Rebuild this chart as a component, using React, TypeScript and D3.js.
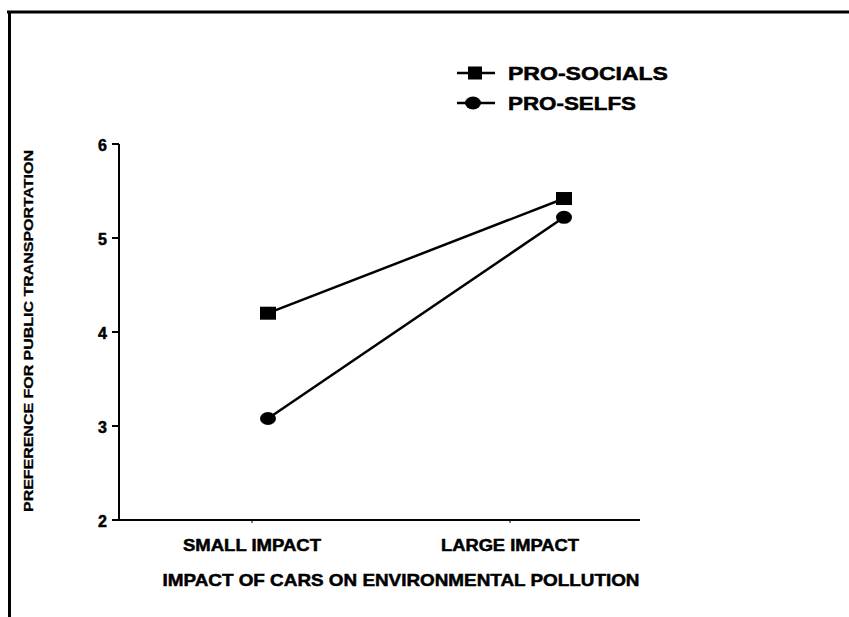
import React from "react";
import * as d3 from "d3";

const categories = ["SMALL IMPACT", "LARGE IMPACT"];
const proSocials = [4.2, 5.42];
const proSelfs = [3.08, 5.22];
const yTicks = [2, 3, 4, 5, 6];
const seriesNames = ["PRO-SOCIALS", "PRO-SELFS"];
const yTitle = "PREFERENCE FOR PUBLIC TRANSPORTATION";
const xTitle = "IMPACT OF CARS ON ENVIRONMENTAL POLLUTION";

const W = 849;
const H = 617;
const FONT = "'Liberation Sans', Arial, Helvetica, sans-serif";
const heavy = { stroke: "#000", strokeWidth: 0.5 };

export default function App() {
  const y = d3.scaleLinear().domain([2, 6]).range([520, 144]);
  const xData = d3.scalePoint<string>().domain(categories).range([268, 564]);
  const xLabel = d3.scalePoint<string>().domain(categories).range([252, 510]);
  const axisX = 119;
  const line = d3
    .line<number>()
    .x((_, i) => xData(categories[i]) as number)
    .y((v) => y(v));

  const series = [
    { name: seriesNames[0], values: proSocials, shape: "square", width: 160 },
    { name: seriesNames[1], values: proSelfs, shape: "circle", width: 128 },
  ];

  const marker = (shape: string, cx: number, cy: number, key: string) =>
    shape === "square" ? (
      <rect key={key} x={cx - 8} y={cy - 6.5} width={16} height={13} fill="#000" />
    ) : (
      <ellipse key={key} cx={cx} cy={cy} rx={8} ry={6.5} fill="#000" />
    );

  return (
    <svg
      width={W}
      height={H}
      style={{ position: "absolute", left: 0, top: 0, background: "#fff" }}
    >
      <rect x={0} y={0} width={W} height={H} fill="#fff" />
      {/* frame */}
      <line x1={7} y1={12} x2={W} y2={12} stroke="#000" strokeWidth={3} />
      <line x1={9.5} y1={11} x2={9.5} y2={H} stroke="#000" strokeWidth={3} />

      {/* y axis */}
      <line x1={axisX} y1={y(6)} x2={axisX} y2={y(2)} stroke="#000" strokeWidth={2} />
      {yTicks.map((t) => (
        <g key={t}>
          <line x1={axisX - 7} x2={axisX} y1={y(t)} y2={y(t)} stroke="#000" strokeWidth={2} />
          <text
            x={107}
            y={y(t) + 1}
            textAnchor="end"
            dominantBaseline="central"
            fontFamily={FONT}
            fontWeight="bold"
            fontSize={16}
            {...heavy}
          >
            {t}
          </text>
        </g>
      ))}
      {/* x axis */}
      <line x1={axisX} y1={y(2)} x2={640} y2={y(2)} stroke="#000" strokeWidth={2} />
      {categories.map((c) => (
        <g key={c}>
          <line x1={xLabel(c)} x2={xLabel(c)} y1={y(2)} y2={y(2) + 3} stroke="#000" strokeWidth={1} />
          <text
            x={xLabel(c)}
            y={545}
            textAnchor="middle"
            dominantBaseline="central"
            fontFamily={FONT}
            fontWeight="bold"
            fontSize={16}
            textLength={138}
            lengthAdjust="spacingAndGlyphs"
            {...heavy}
          >
            {c}
          </text>
        </g>
      ))}
      <text
        x={401}
        y={580}
        textAnchor="middle"
        dominantBaseline="central"
        fontFamily={FONT}
        fontWeight="bold"
        fontSize={17}
        textLength={477}
        lengthAdjust="spacingAndGlyphs"
        {...heavy}
      >
        {xTitle}
      </text>
      <text
        transform={`translate(28, 331) rotate(-90)`}
        textAnchor="middle"
        dominantBaseline="central"
        fontFamily={FONT}
        fontWeight="bold"
        fontSize={13}
        textLength={362}
        lengthAdjust="spacingAndGlyphs"
        stroke="#000"
        strokeWidth={0.3}
      >
        {yTitle}
      </text>

      {/* series */}
      {series.map((s) => (
        <g key={s.name}>
          <path d={line(s.values) || ""} fill="none" stroke="#000" strokeWidth={2.5} />
          {s.values.map((v, i) =>
            marker(s.shape, xData(categories[i]) as number, y(v), s.name + i)
          )}
        </g>
      ))}

      {/* legend */}
      {series.map((s, i) => {
        const ly = 73 + i * 30;
        return (
          <g key={"leg" + s.name}>
            <line x1={457} x2={495} y1={ly} y2={ly} stroke="#000" strokeWidth={2.5} />
            {s.shape === "square" ? (
              <rect x={468} y={ly - 6.5} width={14} height={13} fill="#000" />
            ) : (
              <ellipse cx={473} cy={ly} rx={8} ry={6.5} fill="#000" />
            )}
            <text
              x={508}
              y={ly + 1}
              dominantBaseline="central"
              fontFamily={FONT}
              fontWeight="bold"
              fontSize={18}
              textLength={s.width}
              lengthAdjust="spacingAndGlyphs"
              {...heavy}
            >
              {s.name}
            </text>
          </g>
        );
      })}
    </svg>
  );
}
